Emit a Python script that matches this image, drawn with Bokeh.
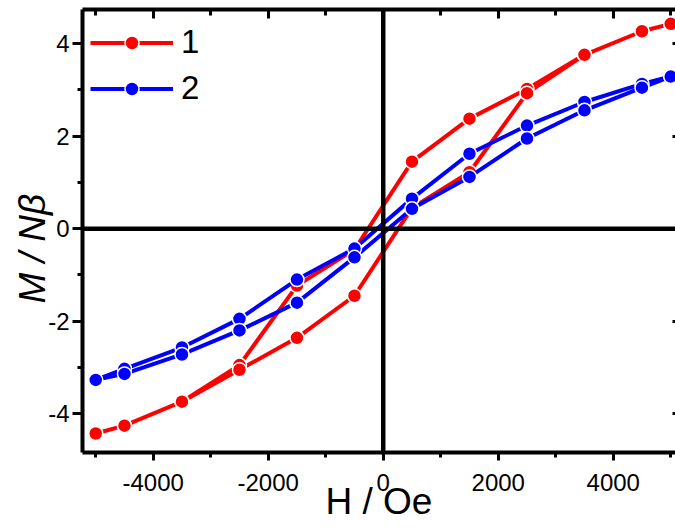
import math
from bokeh.plotting import figure
from bokeh.models import (Range1d, LinearAxis, SingleIntervalTicker, Span, Label,
                          Legend, LegendItem, ColumnDataSource, NumeralTickFormatter,
                          CustomJSTickFormatter)
from bokeh.embed import file_html
from bokeh.resources import INLINE

# ---- data ----
field_oe = [5000, 4500, 3500, 2500, 1500, 500, -500, -1500, -2500, -3500, -4500, -5000,
            -4500, -3500, -2500, -1500, -500, 500, 1500, 2500, 3500, 4500, 5000]
m_series1 = [4.43, 4.27, 3.76, 3.02, 2.38, 1.45, -0.45, -1.23, -2.95, -3.74, -4.26, -4.43,
             -4.26, -3.74, -3.05, -2.36, -1.45, 0.45, 1.22, 2.93, 3.76, 4.27, 4.43]
m_series2 = [3.29, 3.13, 2.74, 2.23, 1.62, 0.65, -0.43, -1.10, -1.95, -2.57, -3.03, -3.27,
             -3.14, -2.72, -2.20, -1.60, -0.62, 0.43, 1.12, 1.95, 2.56, 3.05, 3.29]
series_names = ["1", "2"]
series_colors = ["#FF0000", "#0000FF"]
x_title = "H / Oe"
y_title = "M / Nβ"

FONT = "Liberation Sans"

p = figure(width=675, height=529, output_backend="svg", toolbar_location=None,
           x_range=Range1d(-5230, 5083), y_range=Range1d(-4.84, 4.74),
           min_border_left=82, min_border_right=0, min_border_top=9, min_border_bottom=77,
           x_axis_location=None, y_axis_location=None)
p.outline_line_color = None
p.xgrid.visible = False
p.ygrid.visible = False
p.background_fill_color = "white"
p.border_fill_color = "white"

xt = SingleIntervalTicker(interval=2000, num_minor_ticks=2)
yt = SingleIntervalTicker(interval=2, num_minor_ticks=2)
blank = CustomJSTickFormatter(code="return ''")

def style_axis(ax):
    ax.axis_line_width = 4
    ax.axis_line_color = "black"
    ax.major_tick_line_width = 3
    ax.minor_tick_line_width = 3
    ax.major_tick_line_color = "black"
    ax.minor_tick_line_color = "black"
    ax.major_label_text_font = FONT
    ax.major_label_text_font_size = "24px"
    ax.major_label_text_color = "black"

bottom = LinearAxis(ticker=xt, formatter=NumeralTickFormatter(format="0"))
style_axis(bottom)
bottom.major_tick_out = 8
bottom.major_tick_in = 0
bottom.minor_tick_out = 5
bottom.minor_tick_in = 0
bottom.major_label_standoff = 13
bottom.axis_label = x_title
bottom.axis_label_text_font = FONT
bottom.axis_label_text_font_size = "37px"
bottom.axis_label_text_font_style = "normal"
bottom.axis_label_text_color = "black"
bottom.axis_label_standoff = -13
p.add_layout(bottom, "below")

left = LinearAxis(ticker=yt, formatter=NumeralTickFormatter(format="0"))
style_axis(left)
left.major_tick_out = 10
left.major_tick_in = 0
left.minor_tick_out = 5
left.minor_tick_in = 0
left.major_label_standoff = 3
p.add_layout(left, "left")

top = LinearAxis(ticker=xt, formatter=blank)
style_axis(top)
top.major_tick_out = 0
top.major_tick_in = 9
top.minor_tick_out = 0
top.minor_tick_in = 6
top.major_label_text_font_size = "0px"
top.major_label_standoff = 0
p.add_layout(top, "above")

right = LinearAxis(ticker=yt, formatter=blank)
style_axis(right)
right.axis_line_color = None
right.major_tick_out = 0
right.major_tick_in = 3
right.minor_tick_out = 0
right.minor_tick_in = 0
right.major_label_text_font_size = "0px"
right.major_label_standoff = 0
p.add_layout(right, "right")

# zero lines
p.add_layout(Span(location=0, dimension="height", line_color="black", line_width=4.5))
p.add_layout(Span(location=0, dimension="width", line_color="black", line_width=4.5))

items = []
for name, color, m in zip(series_names, series_colors, [m_series1, m_series2]):
    src = ColumnDataSource(dict(h=field_oe, m=m))
    ln = p.line("h", "m", source=src, line_color=color, line_width=4)
    sc = p.scatter("h", "m", source=src, marker="circle", size=14,
                   fill_color=color, line_color="white", line_width=1.5)
    items.append(LegendItem(label=name, renderers=[ln, sc]))

legend = Legend(items=items, location=(8, 345))
legend.border_line_color = None
legend.background_fill_alpha = 0
legend.padding = 0
legend.margin = 0
legend.glyph_width = 83
legend.glyph_height = 35
legend.label_height = 35
legend.label_standoff = 8
legend.spacing = 8
legend.label_text_font = FONT
legend.label_text_font_size = "33px"
legend.label_text_color = "black"
legend.label_text_baseline = "middle"
p.add_layout(legend)

# y title as a rotated label placed in the left side panel
ylab = Label(x=28, y=149, x_units="screen", y_units="screen", text=y_title,
             text_font=FONT, text_font_size="37px", text_font_style="italic",
             text_align="left", text_baseline="alphabetic", text_color="black",
             angle=math.pi / 2)
p.add_layout(ylab, "left")

open("out.html", "w").write(file_html(p, INLINE))
